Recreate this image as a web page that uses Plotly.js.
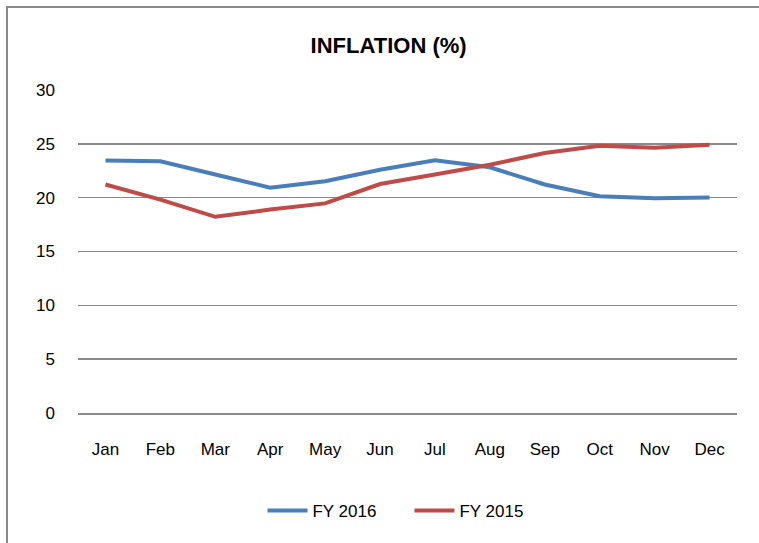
<!DOCTYPE html>
<html>
<head>
<meta charset="utf-8">
<script src="https://cdn.plot.ly/plotly-3.0.1.min.js"></script>
<style>
  html, body { margin: 0; padding: 0; background: #fff; overflow: hidden; }
  #frame { position: absolute; left: 6px; top: 6px; width: 760px; height: 545px;
           border-left: 2px solid #8a8a8a; border-top: 2px solid #8a8a8a; }
  #chart { position: absolute; left: 0; top: 0; width: 759px; height: 543px; }
</style>
</head>
<body>
<div id="frame"></div>
<div id="chart"></div>
<script>
const months = ["Jan","Feb","Mar","Apr","May","Jun","Jul","Aug","Sep","Oct","Nov","Dec"];
const fy2016 = [23.45, 23.38, 22.15, 20.93, 21.52, 22.6, 23.47, 22.82, 21.22, 20.13, 19.94, 20.02];
const fy2015 = [21.22, 19.82, 18.22, 18.9, 19.47, 21.27, 22.16, 23.06, 24.15, 24.82, 24.63, 24.92];
const yTicks = [0, 5, 10, 15, 20, 25, 30];
const font = "'Liberation Sans', Arial, sans-serif";

const traces = [
  { x: months, y: fy2016, name: "FY 2016", type: "scatter", mode: "lines",
    line: { color: "#4a7ebb", width: 4 } },
  { x: months, y: fy2015, name: "FY 2015", type: "scatter", mode: "lines",
    line: { color: "#be4b48", width: 4 } }
];

const layout = {
  width: 759, height: 543,
  paper_bgcolor: "rgba(0,0,0,0)", plot_bgcolor: "rgba(0,0,0,0)",
  margin: { l: 78, r: 22, t: 90, b: 130 },
  font: { family: font, size: 17, color: "#000" },
  title: { text: "<b>INFLATION (%)</b>", x: 0.512, xref: "container", xanchor: "center",
           y: 0.917, yanchor: "middle",
           font: { family: font, size: 22, color: "#000" } },
  xaxis: { type: "category", range: [-0.5, 11.5], showgrid: false, zeroline: false,
           showline: true, linecolor: "#8a8a8a", linewidth: 1.5,
           ticks: "", ticklabelstandoff: 20, tickfont: { family: font, size: 17 } },
  yaxis: { range: [0, 30], tickvals: yTicks, ticktext: yTicks.map(String),
           showgrid: true, gridcolor: "#8a8a8a", gridwidth: 1.5, zeroline: false,
           showline: false, ticks: "", ticklabelstandoff: 22, tickfont: { family: font, size: 17 } },
  showlegend: true,
  legend: { orientation: "h", x: 0.503, xanchor: "center", y: -0.303, yanchor: "middle",
            font: { family: font, size: 17 }, entrywidth: 92, entrywidthmode: "pixels",
            itemwidth: 40, tracegroupgap: 0 },
  hovermode: false
};

Plotly.newPlot("chart", traces, layout, { staticPlot: true, displayModeBar: false });
</script>
</body>
</html>
